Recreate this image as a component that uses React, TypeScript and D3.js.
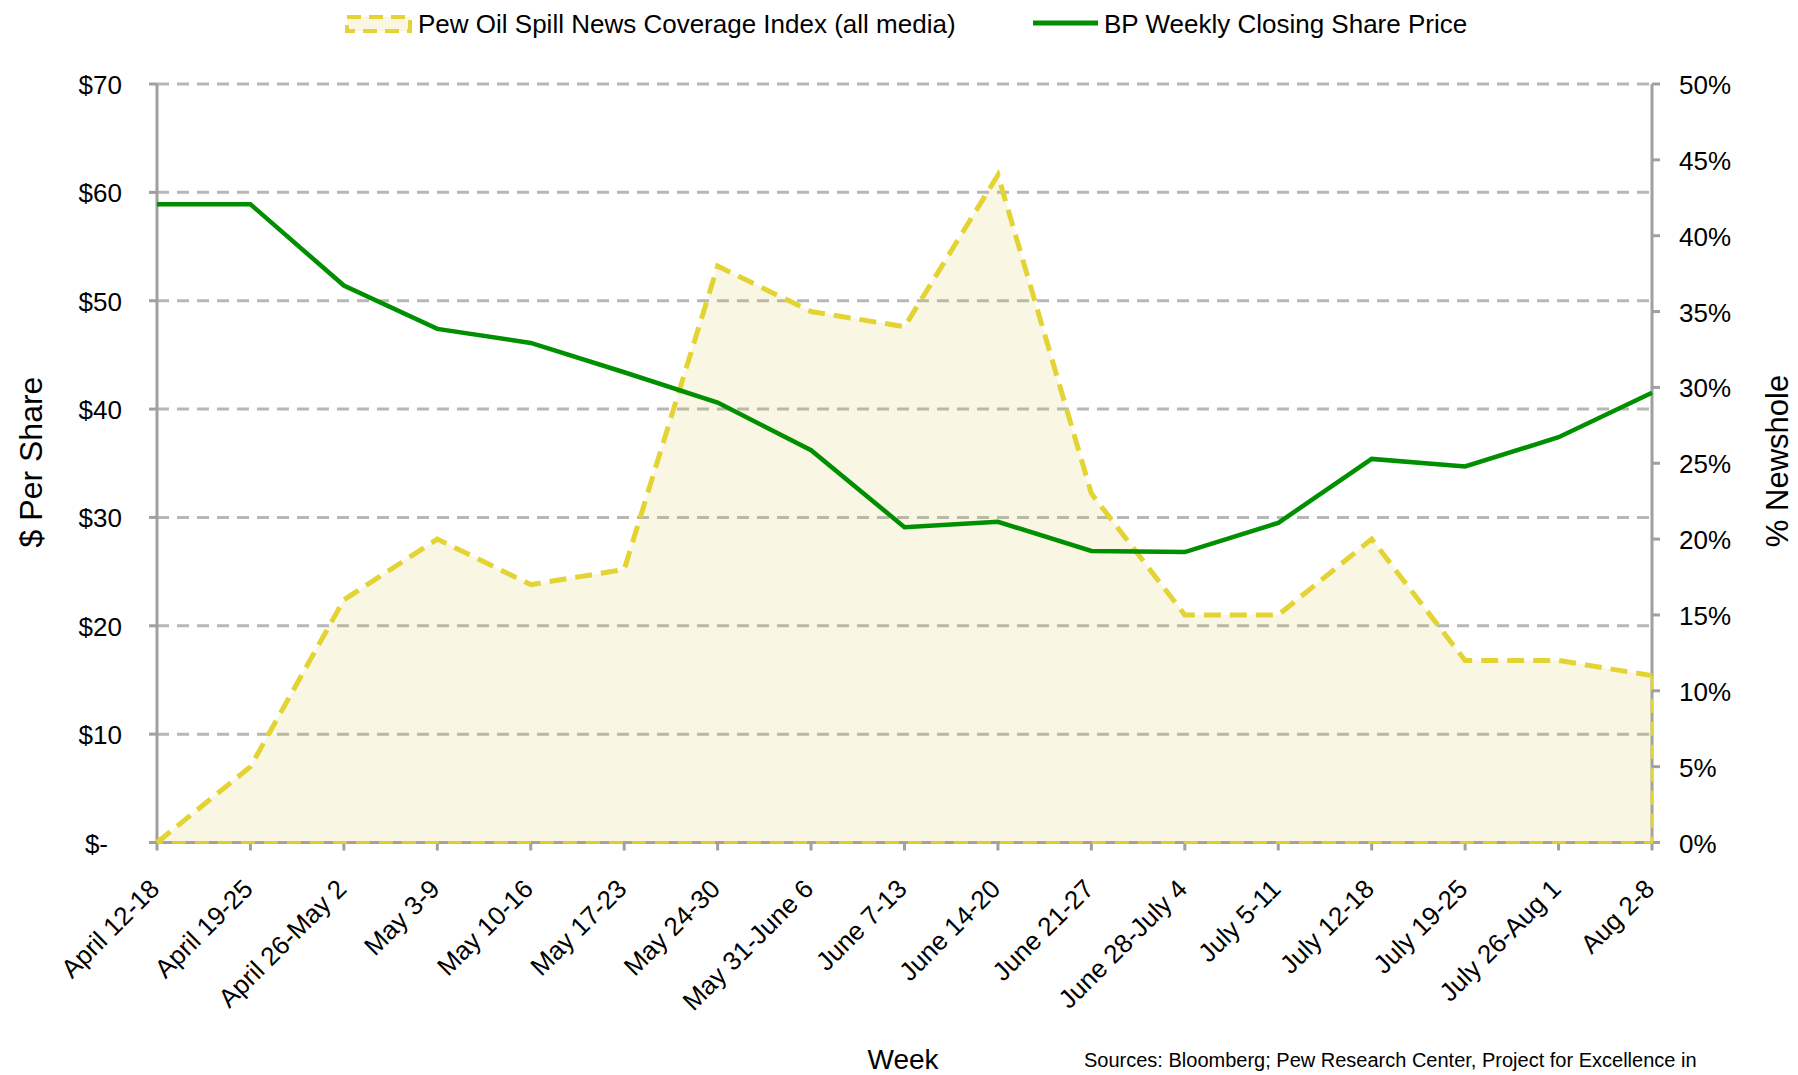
import React from "react";
import * as d3 from "d3";

const weeks = [
  "April 12-18", "April 19-25", "April 26-May 2", "May 3-9", "May 10-16",
  "May 17-23", "May 24-30", "May 31-June 6", "June 7-13", "June 14-20",
  "June 21-27", "June 28-July 4", "July 5-11", "July 12-18", "July 19-25",
  "July 26-Aug 1", "Aug 2-8",
];
// % of newshole (Pew Oil Spill News Coverage Index)
const newsCoverage = [0, 5, 16, 20, 17, 18, 38, 35, 34, 44, 23, 15, 15, 20, 12, 12, 11];
// BP weekly closing share price ($)
const bpPrice = [58.9, 58.9, 51.4, 47.4, 46.1, 43.4, 40.6, 36.2, 29.1, 29.6, 26.9, 26.8, 29.5, 35.4, 34.7, 37.4, 41.5];
const leftTicks = [0, 10, 20, 30, 40, 50, 60, 70];
const rightTicks = [0, 0.05, 0.1, 0.15, 0.2, 0.25, 0.3, 0.35, 0.4, 0.45, 0.5];
const legendLabels = ["Pew Oil Spill News Coverage Index (all media)", "BP Weekly Closing Share Price"];

const W = 1798, H = 1075;
const L = 157, R = 1652, T = 84, B = 842.5;
const FONT = "'Liberation Sans', Arial, Helvetica, sans-serif";
const YELLOW = "#e3d333";
const GREEN = "#008f00";
const AXIS = "#a0a0a0";
const GRID = "#b7b7b7";

export default function App() {
  const x = d3.scalePoint<string>().domain(weeks).range([L, R]).padding(0);
  const yL = d3.scaleLinear().domain([0, 70]).range([B, T]);
  const yR = d3.scaleLinear().domain([0, 0.5]).range([B, T]);

  const newsPts = weeks.map((w, i) => [x(w)!, yR(newsCoverage[i] / 100)] as [number, number]);
  const pricePts = weeks.map((w, i) => [x(w)!, yL(bpPrice[i])] as [number, number]);

  const area = d3.area<[number, number]>().x(d => d[0]).y0(yR(0)).y1(d => d[1])(newsPts) || "";
  const line = d3.line<[number, number]>().x(d => d[0]).y(d => d[1]);
  const newsLine = line(newsPts) || "";
  const closeEdge = line([newsPts[newsPts.length - 1], [R, yR(0)], [L, yR(0)]]) || "";
  const priceLine = line(pricePts) || "";

  const fmtLeft = (v: number) => (v === 0 ? "$-" : `$${v}`);
  const fmtRight = d3.format(".0%");

  return (
    <svg width={W} height={H} style={{ position: "absolute", left: 0, top: 0, background: "#fff" }} fontFamily={FONT}>
      <rect x={0} y={0} width={W} height={H} fill="#fff" />

      {/* gridlines */}
      {leftTicks.map(t => (
        <line key={"g" + t} x1={L} x2={R} y1={yL(t)} y2={yL(t)} stroke={GRID} strokeWidth={3} strokeDasharray="12,8" />
      ))}

      {/* axes */}
      <line x1={L} x2={L} y1={T} y2={B + 1.5} stroke={AXIS} strokeWidth={3} />
      <line x1={R} x2={R} y1={T} y2={B + 1.5} stroke={AXIS} strokeWidth={3} />
      <line x1={L - 8} x2={R + 8} y1={B} y2={B} stroke={AXIS} strokeWidth={3} />
      {leftTicks.map(t => (
        <line key={"lt" + t} x1={L - 8} x2={L} y1={yL(t)} y2={yL(t)} stroke={AXIS} strokeWidth={3} />
      ))}
      {rightTicks.map(t => (
        <line key={"rt" + t} x1={R} x2={R + 8} y1={yR(t)} y2={yR(t)} stroke={AXIS} strokeWidth={3} />
      ))}
      {weeks.map(w => (
        <line key={"xt" + w} x1={x(w)} x2={x(w)} y1={B} y2={B + 8} stroke={AXIS} strokeWidth={3} />
      ))}

      {/* news coverage area */}
      <path d={area} fill="rgb(215,195,68)" fillOpacity={0.15} stroke="none" />
      <path d={closeEdge} fill="none" stroke={YELLOW} strokeWidth={2.5} strokeDasharray="14,9" />
      <path d={newsLine} fill="none" stroke={YELLOW} strokeWidth={5} strokeDasharray="17,9" />

      {/* BP price line */}
      <path d={priceLine} fill="none" stroke={GREEN} strokeWidth={4.5} strokeLinejoin="miter" />

      {/* left tick labels */}
      {leftTicks.map(t => (
        <text key={"ll" + t} x={122} dx={t === 0 ? -14 : 0} y={yL(t) + 10} textAnchor="end" fontSize={26} fill="#000">
          {fmtLeft(t)}
        </text>
      ))}
      {/* right tick labels */}
      {rightTicks.map(t => (
        <text key={"rl" + t} x={1679} y={yR(t) + 10} textAnchor="start" fontSize={26} fill="#000">
          {fmtRight(t)}
        </text>
      ))}
      {/* x tick labels */}
      {weeks.map(w => (
        <text key={"xl" + w} transform={`translate(${x(w)! + 4},${B + 48}) rotate(-45)`} textAnchor="end" fontSize={26} fill="#000">
          {w}
        </text>
      ))}

      {/* axis titles */}
      <text transform="translate(42,462) rotate(-90)" textAnchor="middle" fontSize={32} fill="#000">$ Per Share</text>
      <text transform="translate(1788,461) rotate(-90)" textAnchor="middle" fontSize={31} fill="#000">% Newshole</text>
      <text x={903} y={1069} textAnchor="middle" fontSize={28} fill="#000">Week</text>
      <text x={1084} y={1067} fontSize={20} fill="#000">Sources: Bloomberg; Pew Research Center, Project for Excellence in</text>
      <text x={1084} y={1090} fontSize={20} fill="#000">Journalism</text>

      {/* legend */}
      <rect x={347} y={17} width={63} height={14} fill="rgb(249,246,227)" stroke={YELLOW} strokeWidth={4} strokeDasharray="14,8" />
      <text x={418} y={33} fontSize={26} fill="#000">{legendLabels[0]}</text>
      <line x1={1033} x2={1098} y1={23} y2={23} stroke={GREEN} strokeWidth={5} />
      <text x={1104} y={33} fontSize={26} fill="#000">{legendLabels[1]}</text>
    </svg>
  );
}
